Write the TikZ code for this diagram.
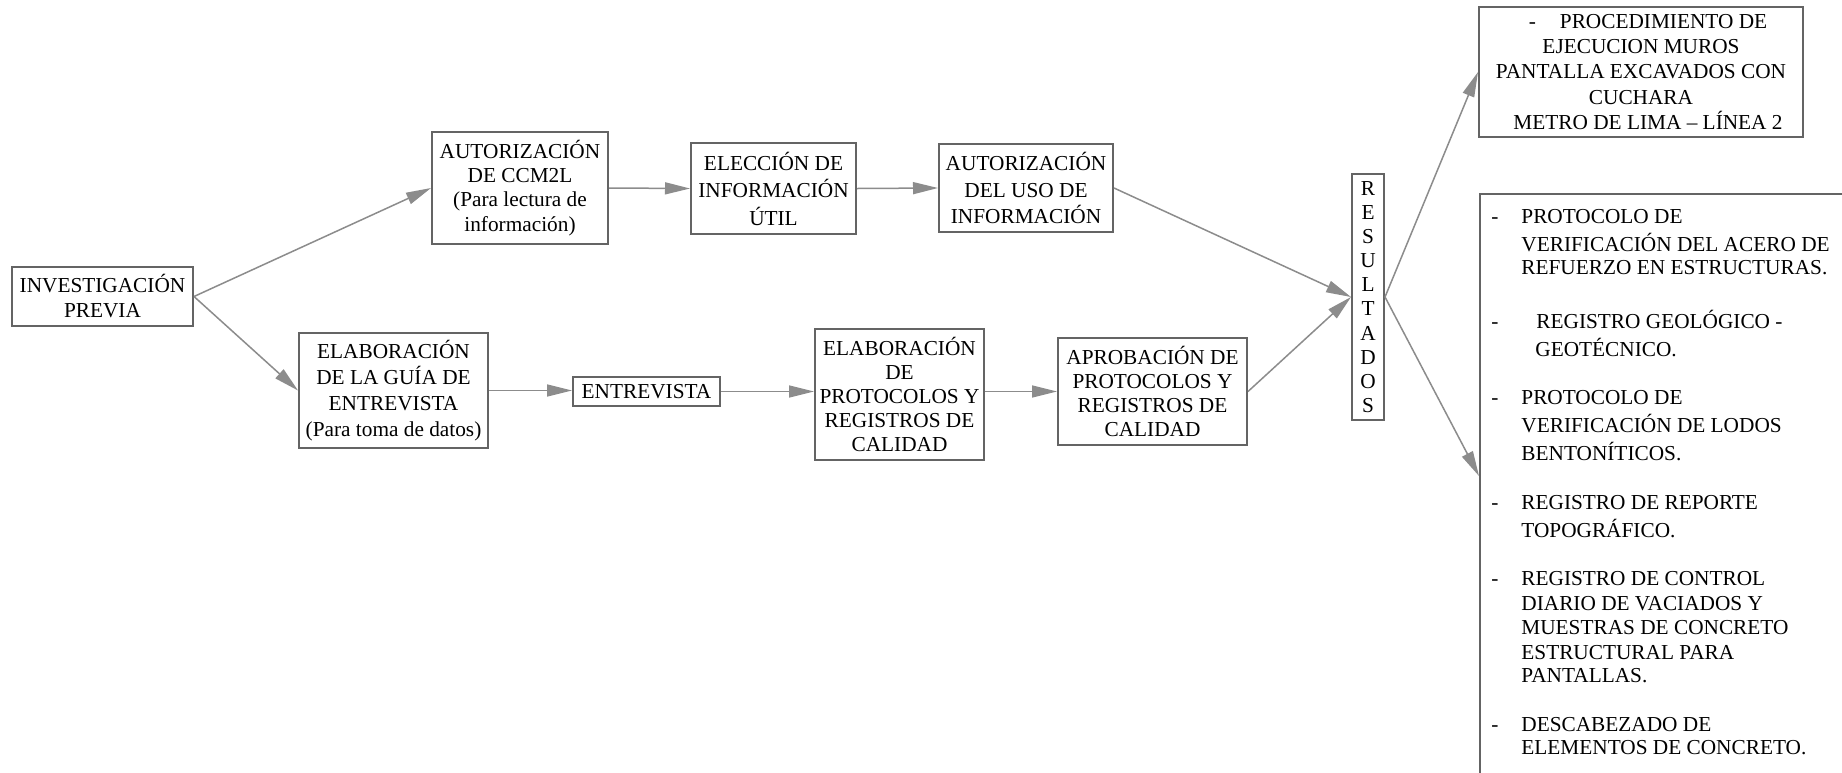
\documentclass[tikz,border=0pt]{standalone}
\usepackage{fontspec}
\setmainfont{Liberation Serif}
\usetikzlibrary{arrows.meta}
\definecolor{boxc}{RGB}{100,100,100}
\definecolor{linec}{RGB}{140,140,140}
\begin{document}
\begin{tikzpicture}[x=0.5pt,y=-0.5pt,
  box/.style={draw=boxc, line width=1pt, inner sep=0pt, align=center, fill=white},
  fs/.style={font=\fontsize{10.65}{#1}\selectfont},
  conn/.style={draw=linec, line width=0.75pt, -{Triangle[length=12.5pt,width=6pt]}},
  itm/.style={anchor=base west, inner sep=0pt, font=\fontsize{10.65}{12.5}\selectfont}]
\useasboundingbox (0,0) rectangle (1842,772);
\clip (0,0) rectangle (1842,772);
\fill[white] (0,0) rectangle (1842,772);

\node[box, fs=12.5, minimum width=90.5pt, minimum height=29.5pt] (inv) at (102.5,296.5) {INVESTIGACIÓN\\PREVIA};
\node[box, fs=12.1, minimum width=88pt, minimum height=56pt] (aut1) at (520,188) {AUTORIZACIÓN\\DE CCM2L\\(Para lectura de\\información)};
\node[box, fs=13.75, minimum width=82.5pt, minimum height=45.5pt] (elec) at (773.5,188.5) {ELECCIÓN DE\\INFORMACIÓN\\ÚTIL};
\node[box, fs=13.25, minimum width=87pt, minimum height=44pt] (aut2) at (1026,188) {AUTORIZACIÓN\\DEL USO DE\\INFORMACIÓN};
\node[box, fs=13, minimum width=94.5pt, minimum height=57.5pt] (guia) at (393.5,390.5) {ELABORACIÓN\\DE LA GUÍA DE\\ENTREVISTA\\(Para toma de datos)};
\node[box, fs=12.5, minimum width=73.5pt, minimum height=14.5pt] (ent) at (646.5,391.5) {ENTREVISTA};
\node[box, fs=12, minimum width=84.5pt, minimum height=65.5pt] (prot) at (899.5,394.5) {ELABORACIÓN\\DE\\PROTOCOLOS Y\\REGISTROS DE\\CALIDAD};
\node[box, fs=12, minimum width=94.5pt, minimum height=53.5pt] (aprob) at (1152.5,391.5) {APROBACIÓN DE\\PROTOCOLOS Y\\REGISTROS DE\\CALIDAD};
\node[box, fs=12.05, minimum width=16pt, minimum height=123pt] (res) at (1368,297) {R\\E\\S\\U\\L\\T\\A\\D\\O\\S};
\node[box, fs=12.7, minimum width=162pt, minimum height=65pt] (top) at (1641,72) {\hspace*{7pt}-\hspace{12pt}PROCEDIMIENTO DE\\EJECUCION MUROS\\PANTALLA EXCAVADOS CON\\CUCHARA\\\hspace*{7pt}METRO DE LIMA – LÍNEA 2};
\node[box, anchor=north west, minimum width=400pt, minimum height=400pt] (big) at (1479,193) {};
\coordinate (bigin) at (1479,476);

% list items
\node[itm] (d1) at (1491,223) {-};
\node[itm] (a1) at (1521,223) {PROTOCOLO DE};
\node[itm] (a2) at (1521,251) {VERIFICACIÓN DEL ACERO DE};
\node[itm] (a3) at (1521,274) {REFUERZO EN ESTRUCTURAS.};
\node[itm] (d2) at (1491,328) {-};
\node[itm] (b1) at (1536,328) {REGISTRO GEOLÓGICO -};
\node[itm] (b2) at (1535,356) {GEOTÉCNICO.};
\node[itm] (d3) at (1491,404) {-};
\node[itm] (c1) at (1521,404) {PROTOCOLO DE};
\node[itm] (c2) at (1521,432) {VERIFICACIÓN DE LODOS};
\node[itm] (c3) at (1521,460) {BENTONÍTICOS.};
\node[itm] (d4) at (1491,509) {-};
\node[itm] (e1) at (1521,509) {REGISTRO DE REPORTE};
\node[itm] (e2) at (1521,537) {TOPOGRÁFICO.};
\node[itm] (d5) at (1491,585) {-};
\node[itm] (f1) at (1521,585) {REGISTRO DE CONTROL};
\node[itm] (f2) at (1521,610) {DIARIO DE VACIADOS Y};
\node[itm] (f3) at (1521,634) {MUESTRAS DE CONCRETO};
\node[itm] (f4) at (1521,659) {ESTRUCTURAL PARA};
\node[itm] (f5) at (1521,682) {PANTALLAS.};
\node[itm] (d6) at (1491,731) {-};
\node[itm] (g1) at (1521,731) {DESCABEZADO DE};
\node[itm] (g2) at (1521,754) {ELEMENTOS DE CONCRETO.};

% connectors
\draw[conn] (inv.east) -- (aut1.west);
\draw[conn] (inv.east) -- (guia.west);
\draw[conn] (aut1.east) -- (elec.west);
\draw[conn] (elec.east) -- (aut2.west);
\draw[conn] (guia.east) -- (guia.east -| ent.west);
\draw[conn] (ent.east) -- (ent.east -| prot.west);
\draw[conn] (prot.east |- ent.east) -- (aprob.west |- ent.east);
\draw[conn] (aut2.east) -- (res.west);
\draw[conn] (aprob.east) -- (res.west);
\draw[conn] (res.east) -- (top.west);
\draw[conn] (res.east) -- (bigin);
\end{tikzpicture}
\end{document}
